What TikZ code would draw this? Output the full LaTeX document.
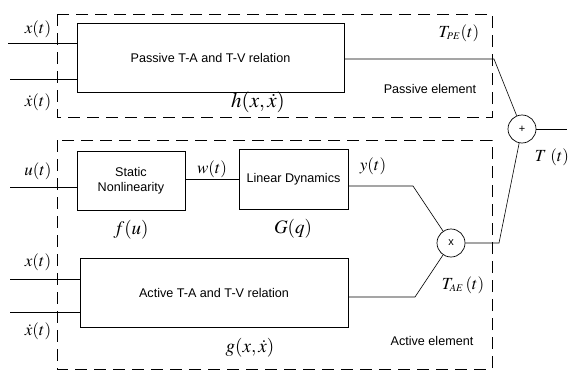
\documentclass[tikz,border=0pt]{standalone}
\usepackage{mathptmx}
\usepackage{fontspec}
\setmainfont{Liberation Sans}
\tikzset{
  blk/.style={draw, line width=.7pt, inner sep=0, align=center, font=\fontsize{12.6}{15}\selectfont},
  opr/.style={draw, circle, line width=.7pt, minimum size=28pt, inner sep=0, font=\fontsize{11}{12}\selectfont},
  grp/.style={line width=.8pt, dash pattern=on 12pt off 7pt},
  sig/.style={font=\fontsize{17}{19}\selectfont},
  fun/.style={font=\fontsize{19}{21}\selectfont},
  lbl/.style={font=\fontsize{12.6}{15}\selectfont},
}
\begin{document}
\begin{tikzpicture}[x=1pt, y=-1pt, line width=.6pt]
\useasboundingbox (0,0) rectangle (570,372);
% element borders
\draw[grp] (57,14) rectangle (492,117);
\draw[grp] (57,140) rectangle (492,369);
% blocks
\node[blk, minimum width=267pt, minimum height=69pt] (pas) at (210.5,57.5) {Passive T-A and T-V relation};
\node[blk, minimum width=108pt, minimum height=59pt] (snl) at (131,180.5) {Static\\Nonlinearity};
\node[blk, minimum width=109pt, minimum height=60pt] (lin) at (293.5,179) {Linear Dynamics};
\node[blk, minimum width=268pt, minimum height=69pt] (act) at (214,292.5) {Active T-A and T-V relation};
\node[opr] (mul) at (451,243) {x};
\node[opr] (sum) at (522,129) {+};
% inputs
\coordinate (xp) at (8,43);
\coordinate (vp) at (10,79);
\coordinate (ua) at (10,187);
\coordinate (xa) at (10,279);
\coordinate (va) at (10,312);
\draw (xp) -- (xp -| pas.west);
\draw (vp) -- (vp -| pas.west);
\draw (ua) -- (ua -| snl.west);
\draw (xa) -- (xa -| act.west);
\draw (va) -- (va -| act.west);
\draw (snl.east |- lin.west) -- (lin.west);
% outputs
\coordinate (pe) at (494,59);
\coordinate (yk) at (413,186);
\coordinate (ak) at (415,297);
\coordinate (tk) at (499,243);
\coordinate (out) at (567,129);
\draw (pas.east |- pe) -- (pe) -- (sum);
\draw (lin.east |- yk) -- (yk) -- (mul);
\draw (act.east |- ak) -- (ak) -- (mul);
\draw (mul) -- (tk) -- (sum);
\draw (sum) -- (out);
% signal labels
\node[sig] at (38,29) {$x(t)$};
\node[sig] at (38,102) {$\dot{x}(t)$};
\node[sig] at (38,171) {$u(t)$};
\node[sig] at (38,262) {$x(t)$};
\node[sig] at (38,331) {$\dot{x}(t)$};
\node[sig] at (212,169) {$w(t)$};
\node[sig] at (373,166) {$y(t)$};
\node[sig] at (459,33) {$T_{\scriptscriptstyle PE}(t)$};
\node[sig] at (463,285) {$T_{\scriptscriptstyle AE}\,(t)$};
\node[sig] at (552,157) {$T\;(t)$};
% functions
\node[fun, font=\fontsize{21}{23}\selectfont] at (258,102) {$h(x,\dot{x})$};
\node[fun] at (131,230) {$f(u)$};
\node[fun] at (293,229) {$G(q)$};
\node[fun] at (250,348) {$g(x,\dot{x})$};
\node[lbl] at (430,89) {Passive element};
\node[lbl] at (432,341) {Active element};
\end{tikzpicture}
\end{document}
